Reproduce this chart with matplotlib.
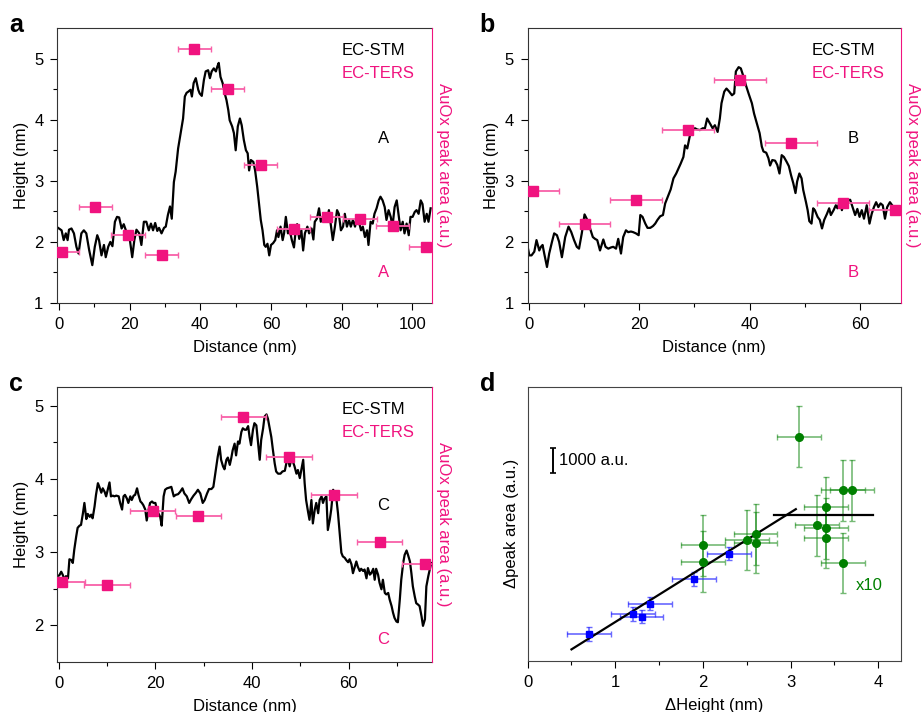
import numpy as np
import matplotlib.pyplot as plt

plt.rcParams['font.family'] = ['Liberation Sans', 'DejaVu Sans']
plt.rcParams['font.size'] = 12

PINK = '#f0137f'
PINK_ERR = '#f860a8'

# ---- panel a : EC-STM profile A ----
a_x = [-0.3, 0.7, 1.3, 1.9, 2.4, 2.8, 3.5, 4.2, 4.9, 5.5, 6.3, 7.0, 7.7, 8.5, 9.4, 10.1, 10.8, 11.3, 12.0,
       12.7, 13.2, 13.9, 14.5, 15.1, 15.8, 16.4, 17.0, 17.7, 18.3, 18.9, 19.5, 20.0, 20.7, 21.3, 21.9, 22.7,
       23.3, 24.0, 24.7, 25.4, 26.0, 26.6, 27.2, 27.8, 28.3, 29.0, 29.7, 30.2, 30.8, 31.4, 31.9, 32.5, 33.0,
       33.7, 34.4, 35.1, 35.6, 36.1, 36.6, 37.2, 37.6, 38.1, 38.7, 39.4, 39.8, 40.4, 41.0, 41.5, 42.2, 42.7,
       43.2, 43.8, 44.4, 44.8, 45.2, 45.7, 46.3, 46.9, 47.4, 47.9, 48.3, 49.0, 49.5, 50.0, 50.6, 51.2, 51.7,
       52.3, 52.9, 53.4, 53.8, 54.3, 55.0, 55.5, 56.1, 56.7, 57.1, 57.6, 58.1, 58.5, 59.0, 59.5, 60.0, 60.6,
       61.2, 61.7, 62.1, 62.7, 63.3, 63.7, 64.2, 64.8, 65.3, 65.9, 66.5, 67.0, 67.4, 68.0, 68.6, 69.1, 69.6,
       70.3, 70.8, 71.5, 72.0, 72.4, 73.0, 73.6, 74.1, 74.7, 75.3, 75.8, 76.4, 77.0, 77.5, 78.1, 78.7, 79.2,
       79.8, 80.4, 80.9, 81.5, 82.1, 82.6, 83.2, 83.8, 84.3, 84.9, 85.5, 86.0, 86.6, 87.2, 87.6, 88.2, 88.8,
       89.3, 89.9, 90.5, 91.0, 91.6, 92.2, 92.7, 93.3, 93.9, 94.4, 95.0, 95.6, 96.1, 96.7, 97.3, 97.8, 98.4,
       99.0, 99.5, 100.1, 100.7, 101.2, 101.8, 102.4, 102.9, 103.5, 104.1, 104.6, 105.2]
a_h = [2.23, 2.19, 2.03, 2.14, 2.03, 2.20, 2.22, 2.14, 1.92, 1.81, 2.14, 2.19, 2.14, 1.87, 1.62, 1.92, 2.11,
       2.03, 1.78, 1.95, 1.75, 1.92, 2.00, 1.93, 2.33, 2.41, 2.40, 2.22, 2.29, 2.19, 2.08, 2.05, 1.75, 2.03,
       2.20, 2.14, 1.95, 2.33, 2.33, 2.19, 2.30, 2.19, 2.31, 2.18, 2.23, 2.14, 2.23, 2.25, 2.44, 2.58, 2.38,
       2.98, 3.15, 3.53, 3.78, 4.02, 4.38, 4.44, 4.46, 4.49, 4.38, 4.60, 4.68, 4.49, 4.43, 4.39, 4.65, 4.79,
       4.81, 4.68, 4.79, 4.84, 4.79, 4.87, 4.93, 4.70, 4.60, 4.43, 4.32, 4.16, 3.99, 3.89, 3.78, 3.50, 3.89,
       4.02, 3.91, 3.67, 3.50, 3.45, 3.17, 3.34, 3.31, 3.17, 2.90, 2.57, 2.36, 2.19, 1.95, 1.92, 1.97, 1.78,
       1.95, 1.98, 2.03, 2.19, 2.08, 2.25, 2.03, 2.14, 2.41, 2.14, 2.19, 2.03, 1.91, 2.19, 2.29, 2.05, 2.19,
       1.86, 2.14, 2.25, 2.14, 2.22, 2.04, 2.33, 2.38, 2.55, 2.33, 2.41, 2.46, 2.33, 2.52, 2.25, 2.03, 2.25,
       2.52, 2.46, 2.19, 2.25, 2.46, 2.25, 2.36, 2.25, 2.36, 2.25, 2.41, 2.33, 2.19, 2.25, 2.08, 2.19, 1.95,
       2.33, 2.30, 2.46, 2.55, 2.68, 2.74, 2.68, 2.57, 2.36, 2.52, 2.41, 2.25, 2.57, 2.68, 2.46, 2.19, 2.33,
       2.14, 2.30, 2.11, 2.41, 2.41, 2.49, 2.52, 2.46, 2.68, 2.62, 2.33, 2.46, 2.33, 2.55]
a_ters_x = [0.8, 10.2, 19.5, 29.0, 38.3, 47.7, 57.1, 66.4, 75.8, 85.2, 94.5, 103.9]
a_ters_y = [1.83, 2.57, 2.11, 1.79, 5.16, 4.51, 3.26, 2.21, 2.40, 2.38, 2.26, 1.92]

# ---- panel b : profile B ----
b_x = [-0.2, 0.1, 0.5, 1.0, 1.4, 1.9, 2.2, 2.5, 2.8, 3.3, 3.7, 4.2, 4.6, 5.1, 5.5, 6.0, 6.6, 7.2, 7.7, 8.2,
       8.7, 9.1, 9.6, 10.1, 10.6, 11.1, 11.6, 12.0, 12.4, 12.9, 13.5, 13.9, 14.4, 14.9, 15.3, 15.8, 16.2,
       16.7, 17.1, 17.6, 18.0, 18.5, 18.9, 19.4, 19.9, 20.2, 20.6, 21.1, 21.5, 22.0, 22.5, 22.9, 23.3, 23.8,
       24.3, 24.7, 25.3, 25.7, 26.2, 26.7, 27.1, 27.5, 28.0, 28.3, 28.7, 29.2, 29.6, 30.1, 30.5, 31.0, 31.5,
       31.9, 32.3, 32.8, 33.3, 33.7, 34.2, 34.6, 34.9, 35.4, 35.8, 36.3, 36.8, 37.2, 37.5, 38.0, 38.4, 38.9,
       39.3, 39.8, 40.4, 40.8, 41.3, 41.8, 42.2, 42.5, 43.0, 43.4, 43.7, 44.1, 44.6, 45.0, 45.4, 45.8, 46.2,
       46.7, 47.1, 47.5, 47.9, 48.3, 48.6, 49.0, 49.4, 49.7, 50.2, 50.5, 50.8, 51.2, 51.5, 51.8, 52.3, 52.7,
       53.1, 53.5, 54.0, 54.4, 54.7, 55.2, 55.6, 55.9, 56.4, 56.7, 57.0, 57.4, 57.8, 58.2, 58.7, 59.1, 59.5,
       59.9, 60.3, 60.7, 61.2, 61.7, 62.1, 62.5, 62.9, 63.3, 63.7, 64.1, 64.5, 64.9, 65.4, 65.8, 66.3, 66.9,
       67.4]
b_h = [1.92, 1.78, 1.78, 1.84, 2.03, 1.86, 1.92, 1.95, 1.81, 1.59, 1.81, 2.00, 2.14, 2.11, 2.00, 1.75, 2.08,
       2.25, 2.16, 2.03, 1.92, 1.89, 2.14, 2.45, 2.36, 2.22, 2.08, 2.05, 2.03, 1.86, 2.04, 1.92, 1.89, 1.91,
       1.92, 1.89, 2.05, 1.81, 2.08, 2.19, 2.16, 2.17, 2.16, 2.14, 2.11, 2.44, 2.41, 2.30, 2.23, 2.23, 2.26,
       2.30, 2.36, 2.42, 2.44, 2.63, 2.77, 2.86, 3.04, 3.12, 3.20, 3.28, 3.39, 3.58, 3.53, 3.75, 3.83, 3.86,
       3.84, 3.83, 3.86, 3.86, 4.02, 3.94, 3.86, 3.91, 3.80, 4.02, 4.27, 4.46, 4.51, 4.46, 4.40, 4.43, 4.79,
       4.86, 4.84, 4.70, 4.57, 4.43, 4.27, 4.10, 3.94, 3.78, 3.56, 3.48, 3.46, 3.37, 3.25, 3.34, 3.33, 3.26,
       3.12, 3.42, 3.39, 3.31, 3.24, 3.09, 2.96, 2.80, 2.99, 3.12, 3.04, 2.85, 2.65, 2.52, 2.34, 2.30, 2.55,
       2.52, 2.41, 2.36, 2.22, 2.36, 2.46, 2.55, 2.44, 2.52, 2.60, 2.55, 2.68, 2.52, 2.63, 2.65, 2.68, 2.69,
       2.55, 2.44, 2.54, 2.41, 2.52, 2.38, 2.60, 2.30, 2.46, 2.57, 2.65, 2.57, 2.63, 2.60, 2.38, 2.57, 2.65,
       2.60, 2.55, 2.52, 2.54]
b_ters_x = [0.7, 10.1, 19.5, 28.8, 38.2, 47.5, 56.9, 66.3]
b_ters_y = [2.84, 2.30, 2.68, 3.83, 4.65, 3.62, 2.63, 2.52]

# ---- panel c : profile C ----
c_x = [-0.3, 0.1, 0.5, 0.8, 1.2, 1.5, 1.9, 2.2, 2.6, 2.9, 3.2, 3.6, 3.9, 4.3, 4.6, 5.0, 5.3, 5.7, 6.0, 6.4,
       6.7, 7.0, 7.4, 7.7, 8.1, 8.4, 8.8, 9.1, 9.5, 9.8, 10.2, 10.5, 10.8, 11.2, 11.5, 11.9, 12.4, 12.7,
       13.1, 13.4, 13.7, 14.1, 14.4, 14.8, 15.1, 15.5, 15.8, 16.2, 16.5, 16.9, 17.2, 17.5, 17.9, 18.2, 18.6,
       18.9, 19.3, 19.6, 20.0, 20.3, 20.6, 21.0, 21.3, 21.7, 22.0, 22.4, 22.9, 23.3, 23.8, 24.2, 24.7, 25.1,
       25.6, 26.0, 26.5, 27.0, 27.4, 27.9, 28.4, 28.8, 29.3, 29.8, 30.2, 30.7, 31.1, 31.6, 32.0, 32.5, 32.9,
       33.3, 33.6, 34.0, 34.3, 34.7, 35.0, 35.4, 35.7, 36.0, 36.4, 36.7, 37.1, 37.4, 37.8, 38.1, 38.5, 38.8,
       39.2, 39.5, 39.8, 40.2, 40.5, 40.9, 41.2, 41.6, 41.9, 42.3, 42.6, 43.0, 43.3, 43.6, 44.0, 44.3, 44.7,
       45.0, 45.4, 45.9, 46.3, 46.8, 47.1, 47.4, 47.8, 48.1, 48.5, 48.8, 49.2, 49.5, 49.9, 50.2, 50.6, 50.9,
       51.2, 51.6, 51.9, 52.3, 52.6, 53.0, 53.3, 53.7, 54.0, 54.4, 54.7, 55.0, 55.4, 55.7, 56.1, 56.4, 56.8,
       57.1, 57.5, 57.8, 58.1, 58.5, 58.8, 59.2, 59.5, 59.9, 60.2, 60.6, 60.9, 61.3, 61.6, 61.9, 62.3, 62.6,
       63.0, 63.3, 63.7, 64.0, 64.4, 64.7, 65.1, 65.4, 65.7, 66.1, 66.4, 66.8, 67.1, 67.5, 67.8, 68.2, 68.5,
       68.9, 69.2, 69.5, 69.9, 70.2, 70.6, 70.9, 71.3, 71.6, 72.0, 72.3, 72.7, 73.0, 73.3, 73.7, 74.0, 74.4,
       74.7, 75.1, 75.4, 75.8, 76.1, 76.5, 76.8, 77.1]
c_h = [2.67, 2.68, 2.73, 2.69, 2.62, 2.67, 2.64, 2.90, 2.89, 2.85, 3.03, 3.21, 3.33, 3.36, 3.37, 3.53, 3.67,
       3.45, 3.52, 3.48, 3.51, 3.46, 3.62, 3.78, 3.94, 3.89, 3.81, 3.87, 3.82, 3.76, 3.87, 3.95, 3.76, 3.77,
       3.76, 3.77, 3.76, 3.67, 3.58, 3.76, 3.78, 3.73, 3.67, 3.76, 3.71, 3.77, 3.78, 3.87, 3.78, 3.69, 3.67,
       3.64, 3.58, 3.43, 3.58, 3.67, 3.69, 3.67, 3.67, 3.58, 3.53, 3.48, 3.36, 3.76, 3.85, 3.87, 3.88, 3.89,
       3.76, 3.78, 3.79, 3.82, 3.87, 3.80, 3.76, 3.67, 3.72, 3.77, 3.81, 3.85, 3.80, 3.67, 3.71, 3.80, 3.86,
       3.86, 3.89, 4.12, 4.30, 4.44, 4.26, 4.17, 4.13, 4.26, 4.29, 4.19, 4.28, 4.39, 4.48, 4.32, 4.51, 4.48,
       4.64, 4.69, 4.67, 4.67, 4.72, 4.57, 4.46, 4.67, 4.76, 4.73, 4.53, 4.26, 4.53, 4.69, 4.85, 4.88, 4.82,
       4.71, 4.57, 4.41, 4.21, 4.10, 4.07, 4.07, 4.10, 4.11, 4.21, 4.28, 4.17, 4.26, 4.23, 4.17, 4.07, 4.12,
       4.01, 4.12, 4.26, 3.94, 3.71, 3.55, 3.44, 3.71, 3.39, 3.58, 3.67, 3.53, 3.71, 3.76, 3.67, 3.73, 3.76,
       3.30, 3.44, 3.58, 3.85, 3.80, 3.71, 3.53, 3.30, 2.99, 2.94, 2.92, 2.89, 2.86, 2.90, 2.83, 2.71, 2.80,
       2.87, 2.80, 2.74, 2.77, 2.74, 2.76, 2.64, 2.78, 2.69, 2.71, 2.77, 2.62, 2.77, 2.69, 2.58, 2.49, 2.62,
       2.44, 2.42, 2.44, 2.35, 2.26, 2.17, 2.10, 2.05, 2.04, 2.35, 2.62, 2.85, 2.96, 3.02, 2.96, 2.87, 2.71,
       2.53, 2.39, 2.30, 2.28, 2.26, 2.12, 1.99, 2.08, 2.53, 2.67, 2.76, 2.85]
c_ters_x = [0.7, 10.0, 19.4, 28.9, 38.2, 47.7, 57.0, 66.4, 75.8]
c_ters_y = [2.59, 2.55, 3.56, 3.49, 4.85, 4.30, 3.78, 3.13, 2.84]

ters_xerr = 4.7

# ---- panel d : correlation ----
blue_x = [0.7, 1.2, 1.3, 1.4, 1.9, 2.3]
blue_y = [1070, 1860, 1750, 2260, 3240, 4240]
green_x = [2.0, 2.0, 2.5, 2.6, 2.6, 3.1, 3.3, 3.4, 3.4, 3.4, 3.6, 3.7, 3.6]
green_y = [4570, 3920, 4780, 5010, 4670, 8860, 5360, 6070, 5240, 4880, 6740, 6740, 3870]
fit_x = [0.5, 3.06]
fit_y = [460, 6000]
plateau_x = [2.81, 3.94]
plateau_y = [5760, 5760]

fig = plt.figure(figsize=(9.22, 7.12), dpi=100)


def profile_panel(rect, x, h, tx, ty, xlim, ylim, xmaj, xmin, ymaj, ymin, letter, tag):
    ax = fig.add_axes(rect)
    ax.plot(x, h, color='black', lw=1.6, zorder=2)
    ax.set_xlim(*xlim)
    ax.set_ylim(*ylim)
    ax.set_xticks(xmaj)
    ax.set_xticks(xmin, minor=True)
    ax.set_yticks(ymaj)
    ax.set_yticks(ymin, minor=True)
    ax.tick_params(direction='out', length=5, width=0.8, labelsize=12, pad=5)
    ax.tick_params(which='minor', direction='out', length=3, width=0.8)
    ax.set_xlabel('Distance (nm)', fontsize=12, labelpad=6)
    ax.set_ylabel('Height (nm)', fontsize=12)
    ax.spines['right'].set_visible(False)
    for s in ['left', 'bottom', 'top']:
        ax.spines[s].set_color('#333333')
    tw = ax.twinx()
    tw.set_ylim(*ylim)
    tw.set_yticks([])
    tw.spines['right'].set_color(PINK)
    for s in ['left', 'bottom', 'top']:
        tw.spines[s].set_visible(False)
    tw.errorbar(tx, ty, xerr=ters_xerr, fmt='s', color=PINK, ms=7.5, ecolor=PINK_ERR,
                elinewidth=1.3, capsize=2.5, capthick=1.0, clip_on=True, zorder=3)
    tw.set_ylabel('AuOx peak area (a.u.)', color=PINK, fontsize=12, rotation=270, labelpad=14)
    ax.text(0.76, 0.92, 'EC-STM', transform=ax.transAxes, fontsize=12, va='center')
    ax.text(0.76, 0.835, 'EC-TERS', transform=ax.transAxes, fontsize=12, va='center', color=PINK)
    ax.text(0.871, 0.6 if tag != 'C' else 0.57, tag, transform=ax.transAxes, fontsize=12,
            va='center', ha='center')
    ax.text(0.871, 0.11 if tag != 'C' else 0.08, tag, transform=ax.transAxes, fontsize=12,
            va='center', ha='center', color=PINK)
    fig.text(rect[0] - 0.052, rect[1] + rect[3] + 0.004, letter, fontsize=18, fontweight='bold',
             va='center')
    return ax


profile_panel([0.0622, 0.5744, 0.406, 0.3862], a_x, a_h, a_ters_x, a_ters_y, (-0.5, 105.5), (1, 5.5),
              [0, 20, 40, 60, 80, 100], [10, 30, 50, 70, 90], [1, 2, 3, 4, 5],
              [1.5, 2.5, 3.5, 4.5], 'a', 'A')
profile_panel([0.5723, 0.5744, 0.4049, 0.3862], b_x, b_h, b_ters_x, b_ters_y, (-0.2, 67.4), (1, 5.5),
              [0, 20, 40, 60], [10, 30, 50], [1, 2, 3, 4, 5], [1.5, 2.5, 3.5, 4.5], 'b', 'B')
profile_panel([0.0622, 0.0706, 0.406, 0.3854], c_x, c_h, c_ters_x, c_ters_y, (-0.3, 77.2), (1.5, 5.25),
              [0, 20, 40, 60], [10, 30, 50, 70], [2, 3, 4, 5], [2.5, 3.5, 4.5], 'c', 'C')

# panel d
ax = fig.add_axes([0.5723, 0.0716, 0.4049, 0.3853])
ax.errorbar(green_x, green_y, xerr=0.25, yerr=1200, fmt='none', ecolor='#1a8c1a', alpha=0.6,
            elinewidth=1.2, capsize=2.5, capthick=1.0, zorder=2)
ax.plot(green_x, green_y, 'o', color='#008000', ms=5.5, zorder=4)
ax.errorbar(blue_x, blue_y, xerr=0.25, yerr=260, fmt='none', ecolor='#2a2aff', alpha=0.7,
            elinewidth=1.2, capsize=2.5, capthick=1.0, zorder=2)
ax.plot(blue_x, blue_y, 's', color='#0000ff', ms=4.5, zorder=4)
ax.plot(fit_x, fit_y, color='black', lw=1.6, zorder=3)
ax.plot(plateau_x, plateau_y, color='black', lw=1.6, zorder=3)
ax.errorbar([0.29], [7934], yerr=500, fmt='none', ecolor='black', elinewidth=1.4, capsize=2.5,
            capthick=1.2)
ax.text(0.36, 7934, '1000 a.u.', fontsize=12, va='center')
ax.text(3.75, 3000, 'x10', fontsize=12, va='center', color='#008000')
ax.set_xlim(0, 4.26)
ax.set_ylim(0, 10840)
ax.set_xticks([0, 1, 2, 3, 4])
ax.set_xticks([0.5, 1.5, 2.5, 3.5], minor=True)
ax.set_yticks([])
ax.tick_params(direction='out', length=5, width=0.8, labelsize=12, pad=5)
ax.tick_params(which='minor', direction='out', length=3, width=0.8)
for s in ax.spines.values():
    s.set_color('#444444')
ax.set_xlabel('ΔHeight (nm)', fontsize=12, labelpad=6)
ax.set_ylabel('Δpeak area (a.u.)', fontsize=12, labelpad=6)
fig.text(0.5723 - 0.052, 0.4569 + 0.004, 'd', fontsize=18, fontweight='bold', va='center')

fig.savefig('out.png', dpi=100)
